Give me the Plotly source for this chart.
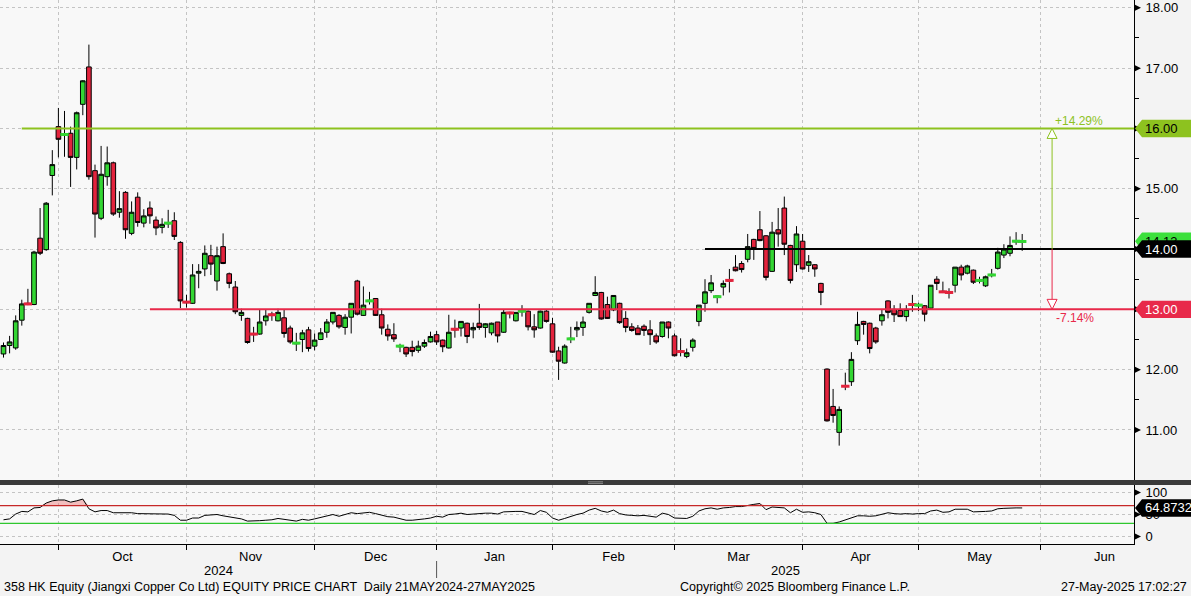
import pandas as pd
import plotly.graph_objects as go

# ---------------- data ----------------
HOLIDAYS = ["2024-09-18", "2024-10-01", "2024-10-11", "2024-12-25", "2024-12-26",
            "2025-01-01", "2025-01-29", "2025-01-30", "2025-01-31", "2025-04-04",
            "2025-04-18", "2025-04-21", "2025-05-01", "2025-05-05"]

open_ = [12.26,12.40,12.36,12.82,13.10,13.08,14.18,13.99,15.22,16.03,
         15.89,15.92,15.52,16.40,17.02,15.30,14.51,15.20,15.43,14.61,
         14.94,14.26,14.86,14.43,14.68,14.48,14.36,14.42,14.47,14.11,
         13.13,13.10,13.60,13.67,13.89,13.47,14.04,13.59,13.37,12.90,
         12.85,12.60,12.59,12.81,12.92,12.81,12.86,12.69,12.43,12.50,
         12.66,12.39,12.50,12.62,12.79,12.90,12.70,12.87,13.47,12.90,
         13.13,13.18,12.91,12.67,12.58,12.38,12.37,12.37,12.32,12.39,
         12.46,12.58,12.49,12.36,12.68,12.69,12.77,12.66,12.77,12.70,
         12.61,12.79,12.62,12.95,12.81,12.96,12.97,12.71,12.69,12.97,
         12.76,12.31,12.11,12.50,12.66,12.70,12.95,13.23,13.28,13.08,
         12.99,13.10,12.85,12.71,12.69,12.72,12.66,12.56,12.55,12.79,
         12.56,12.31,12.22,12.37,12.80,13.10,13.31,13.20,13.37,13.49,
         13.70,13.76,13.83,14.16,14.32,14.22,13.63,14.32,14.68,14.06,
         13.74,14.13,13.73,13.74,13.43,12.01,11.39,10.96,11.73,11.80,
         12.48,12.80,12.77,12.69,12.81,13.14,13.00,12.98,12.88,13.09,
         13.06,13.06,13.02,13.50,13.30,13.29,13.40,13.70,13.60,13.65,
         13.47,13.39,13.56,13.68,13.90,13.93,14.12,14.12]

high = [12.45,12.56,12.90,13.16,13.34,13.97,14.68,14.78,15.64,16.34,
        16.29,16.03,16.28,16.80,17.39,15.40,15.71,15.70,15.45,14.96,
        14.96,14.79,14.94,14.66,14.79,14.54,14.51,14.65,14.61,14.13,
        13.24,13.75,13.75,14.06,14.07,14.04,14.26,13.61,13.47,13.01,
        12.86,12.71,12.99,12.99,12.96,13.01,12.99,12.73,12.61,12.66,
        12.71,12.60,12.69,12.84,12.95,12.92,12.92,13.10,13.49,13.38,
        13.29,13.18,13.01,12.75,12.77,12.43,12.38,12.48,12.48,12.50,
        12.63,12.64,12.50,12.91,12.83,12.80,12.78,12.78,13.09,12.77,
        12.78,12.79,12.99,12.96,12.95,13.07,12.98,12.92,12.98,13.00,
        12.86,12.38,12.42,12.71,12.80,12.88,13.10,13.55,13.29,13.21,
        13.23,13.11,12.97,12.77,12.74,12.75,12.82,12.60,12.79,12.80,
        12.60,12.52,12.35,12.52,13.07,13.50,13.57,13.22,13.48,13.67,
        13.90,13.80,14.25,14.17,14.63,14.23,14.45,14.68,14.87,14.07,
        14.38,14.25,13.90,13.75,13.44,12.02,11.68,11.39,11.95,12.29,
        12.96,12.81,12.78,12.71,12.99,13.15,13.07,13.10,13.07,13.24,
        13.11,13.07,13.40,13.55,13.46,13.35,13.70,13.74,13.74,13.66,
        13.54,13.56,13.67,14.02,14.08,14.21,14.28,14.25]

low = [12.20,12.27,12.33,12.73,13.07,13.07,13.90,13.97,14.89,15.52,
       15.53,15.03,15.32,16.22,15.15,14.19,14.48,15.05,14.55,14.52,
       14.17,14.23,14.37,14.36,14.42,14.23,14.26,14.35,14.15,13.02,
       13.03,13.09,13.35,13.55,13.57,13.31,13.75,13.35,12.92,12.81,
       12.43,12.46,12.58,12.73,12.81,12.80,12.53,12.43,12.31,12.29,
       12.30,12.32,12.49,12.53,12.75,12.68,12.58,12.60,12.90,12.89,
       13.08,12.89,12.58,12.48,12.46,12.29,12.21,12.22,12.28,12.36,
       12.45,12.41,12.29,12.35,12.53,12.55,12.44,12.52,12.66,12.53,
       12.57,12.45,12.61,12.85,12.80,12.88,12.65,12.53,12.68,12.78,
       12.28,11.83,12.10,12.44,12.54,12.56,12.93,13.22,12.83,12.84,
       12.97,12.76,12.62,12.63,12.58,12.56,12.41,12.43,12.53,12.52,
       12.22,12.22,12.19,12.30,12.72,12.96,13.27,13.10,13.23,13.28,
       13.63,13.61,13.78,13.82,14.13,13.48,13.62,14.04,13.90,13.43,
       13.62,13.66,13.62,13.54,13.07,11.14,11.12,10.74,11.66,11.73,
       12.41,12.58,12.27,12.43,12.73,12.85,12.79,12.88,12.80,12.96,
       12.97,12.80,13.01,13.32,13.27,13.18,13.28,13.48,13.58,13.42,
       13.43,13.37,13.53,13.66,13.85,13.88,14.07,13.97]

close = [12.40,12.46,12.81,13.09,13.08,13.95,13.93,14.76,15.40,15.82,
         15.91,15.52,16.26,16.79,15.20,14.58,15.24,15.43,14.58,14.67,
         14.32,14.61,14.44,14.55,14.55,14.35,14.41,14.44,14.21,13.14,
         13.11,13.57,13.63,13.93,13.75,13.89,13.76,13.43,12.96,12.95,
         12.45,12.58,12.79,12.89,12.90,12.95,12.60,12.46,12.45,12.61,
         12.35,12.49,12.61,12.79,12.95,12.71,12.87,13.10,12.92,13.07,
         13.15,12.90,12.69,12.56,12.51,12.40,12.26,12.30,12.39,12.45,
         12.55,12.46,12.38,12.62,12.66,12.80,12.55,12.70,12.70,12.76,
         12.77,12.56,12.95,12.93,12.95,12.98,12.71,12.66,12.97,12.80,
         12.29,12.14,12.39,12.52,12.70,12.79,13.10,13.28,12.84,12.85,
         13.23,12.78,12.70,12.65,12.58,12.65,12.58,12.46,12.79,12.69,
         12.23,12.29,12.28,12.49,13.07,13.29,13.44,13.22,13.43,13.47,
         13.64,13.66,14.04,14.01,14.14,13.53,14.28,14.25,14.08,13.48,
         14.25,13.67,13.79,13.67,13.28,11.15,11.24,11.34,11.72,12.17,
         12.75,12.75,12.35,12.46,12.91,12.95,12.91,12.88,13.00,13.07,
         13.08,12.92,13.40,13.43,13.28,13.27,13.70,13.57,13.72,13.45,
         13.49,13.54,13.58,13.95,14.00,14.06,14.14,14.13]

rsi = [38,40,51,57,56,65,66,76,81,83,
       83,78,81,85,63,56,59,59,54,54,
       53,54,52,52,51,51,51,51,48,37,
       37,42,42,48,49,50,47,45,42,40,
       35,35,36,37,38,41,39,36,35,39,
       37,40,43,46,50,46,50,54,52,54,
       55,52,49,45,44,40,37,37,38,40,
       42,46,44,50,51,53,50,51,53,53,
       53,51,56,57,57,57,53,50,59,55,
       42,37,41,46,50,53,60,64,58,55,
       60,52,49,48,47,48,46,44,53,50,
       42,41,41,46,58,63,65,62,65,66,
       68,68,71,73,75,61,67,66,65,54,
       62,55,56,54,50,30,30,33,38,42,
       47,47,46,47,51,54,52,51,52,51,
       52,52,58,60,55,56,62,62,62,56,
       56,57,58,63,64,65,65,64.8732]

LAST_PRICE = 14.13
RSI_LAST = 64.8732
UPPER_LEVEL, MID_LEVEL, LOWER_LEVEL = 16.00, 14.00, 13.00
UP_PCT, DOWN_PCT = "+14.29%", "-7.14%"
PRICE_TICKS = [11, 12, 13, 14, 15, 16, 17, 18]
RSI_TICKS = [0, 50, 100]

TITLE_TEXT = "358 HK Equity (Jiangxi Copper Co Ltd) EQUITY PRICE CHART  Daily 21MAY2024-27MAY2025"
COPY_TEXT = "Copyright\u00a9 2025 Bloomberg Finance L.P."
STAMP_TEXT = "27-May-2025 17:02:27"

# ---------------- calendar / x positions ----------------
trading_days = [d for d in pd.bdate_range("2024-09-16", "2025-06-30")
                if d.strftime("%Y-%m-%d") not in HOLIDAYS]
n = len(close)
dates = [d.strftime("%Y-%m-%d") for d in trading_days[:n]]
xi = list(range(n))

bounds = [i for i in range(len(trading_days) - 1)
          if trading_days[i].month != trading_days[i + 1].month]
edges = bounds + [len(trading_days) - 1]
mid_vals = [(edges[j] + edges[j + 1]) / 2 for j in range(len(edges) - 1)]
mid_text = [trading_days[edges[j] + 1].strftime("%b") for j in range(len(edges) - 1)]
year_bound = [b for b in bounds if trading_days[b + 1].year == 2025 and trading_days[b].year == 2024][0]

PX = 6.1            # pixels per trading day
X0 = -3.5 / PX      # left edge of plot in index units
PLOT_W = 1134
X1 = X0 + PLOT_W / PX

YR = [10.17, 18.13]
RR = [-17, 117]
MAIN_H = 480.0
PPU = MAIN_H / (YR[1] - YR[0])   # pixels per price unit
RPU = 59.0 / (RR[1] - RR[0])     # pixels per rsi unit

GREEN_LVL = "#8DC21F"
RED_LVL = "#E8294A"
UP_C = "#33D633"
DN_C = "#E3233D"
GRID = "#C4C4C4"
FONT = "Liberation Sans, Arial, sans-serif"

fig = go.Figure()

fig.add_trace(go.Candlestick(
    x=xi, open=open_, high=high, low=low, close=close, text=dates,
    increasing=dict(fillcolor=UP_C, line=dict(color="black", width=1)),
    decreasing=dict(fillcolor=DN_C, line=dict(color="black", width=1)),
    whiskerwidth=0, xaxis="x", yaxis="y", showlegend=False, hoverinfo="skip"))

# doji: thin coloured dashes
dx, dy, dc = [], [], []
for i in range(n):
    if abs(close[i] - open_[i]) <= 0.03:
        dx.append(i); dy.append((close[i] + open_[i]) / 2)
        dc.append(UP_C if close[i] > open_[i] else DN_C)
fig.add_trace(go.Scatter(x=dx, y=dy, mode="markers", xaxis="x", yaxis="y",
                         marker=dict(symbol="line-ew", size=6, line=dict(color=dc, width=3)),
                         showlegend=False, hoverinfo="skip"))

# RSI fill above 70
fig.add_trace(go.Scatter(x=xi, y=[70] * n, mode="lines", line=dict(width=0),
                         xaxis="x2", yaxis="y2", showlegend=False, hoverinfo="skip"))
fig.add_trace(go.Scatter(x=xi, y=[max(v, 70) for v in rsi], mode="lines", line=dict(width=0),
                         fill="tonexty", fillcolor="rgba(235,120,120,0.45)",
                         xaxis="x2", yaxis="y2", showlegend=False, hoverinfo="skip"))
fig.add_trace(go.Scatter(x=xi, y=rsi, mode="lines", line=dict(color="black", width=1),
                         xaxis="x2", yaxis="y2", showlegend=False, hoverinfo="skip"))

shapes = []
# level lines
shapes.append(dict(type="line", xref="x", yref="y", x0=3, x1=X1, y0=UPPER_LEVEL, y1=UPPER_LEVEL,
                   line=dict(color=GREEN_LVL, width=2)))
shapes.append(dict(type="line", xref="x", yref="y", x0=115, x1=X1, y0=MID_LEVEL, y1=MID_LEVEL,
                   line=dict(color="black", width=2)))
shapes.append(dict(type="line", xref="x", yref="y", x0=24, x1=X1, y0=LOWER_LEVEL, y1=LOWER_LEVEL,
                   line=dict(color=RED_LVL, width=2)))

# measuring arrow
AX = 171.9
tw = 5.0 / PX
th = 10.0 / PPU
shapes.append(dict(type="line", xref="x", yref="y", x0=AX, x1=AX, y0=MID_LEVEL, y1=UPPER_LEVEL - th,
                   line=dict(color=GREEN_LVL, width=1)))
shapes.append(dict(type="path", xref="x", yref="y",
                   path=f"M {AX-tw},{UPPER_LEVEL-th} L {AX},{UPPER_LEVEL} L {AX+tw},{UPPER_LEVEL-th} Z",
                   line=dict(color=GREEN_LVL, width=1), fillcolor="rgba(255,255,255,0.9)"))
shapes.append(dict(type="line", xref="x", yref="y", x0=AX, x1=AX, y0=MID_LEVEL, y1=LOWER_LEVEL + th,
                   line=dict(color=RED_LVL, width=1)))
shapes.append(dict(type="path", xref="x", yref="y",
                   path=f"M {AX-tw},{LOWER_LEVEL+th} L {AX},{LOWER_LEVEL} L {AX+tw},{LOWER_LEVEL+th} Z",
                   line=dict(color=RED_LVL, width=1), fillcolor="rgba(255,255,255,0.9)"))

# RSI 70 / 30 lines
shapes.append(dict(type="line", xref="paper", yref="y2", x0=0, x1=1, y0=70, y1=70,
                   line=dict(color="#C62828", width=1.2)))
shapes.append(dict(type="line", xref="paper", yref="y2", x0=0, x1=1, y0=30, y1=30,
                   line=dict(color="#2FC72F", width=1.2)))

# separator bar between panes
H_PLOT = 544.0
shapes.append(dict(type="rect", xref="paper", yref="paper", x0=0, x1=1191 / PLOT_W,
                   y0=(H_PLOT - 485) / H_PLOT, y1=(H_PLOT - 480) / H_PLOT,
                   fillcolor="#3A3A3A", line=dict(width=0), layer="above"))
for gy in (481.8, 483.4):
    shapes.append(dict(type="line", xref="paper", yref="paper",
                       x0=588 / PLOT_W, x1=603 / PLOT_W,
                       y0=(H_PLOT - gy) / H_PLOT, y1=(H_PLOT - gy) / H_PLOT,
                       line=dict(color="#9A9A9A", width=0.8), layer="above"))
# year divider
shapes.append(dict(type="line", xref="x2", yref="paper", x0=year_bound, x1=year_bound,
                   y0=(H_PLOT - 578) / H_PLOT, y1=(H_PLOT - 561) / H_PLOT,
                   line=dict(color="#555555", width=1)))

def px_to_paper(px):
    return px / PLOT_W

# axis triangles
def tri(v, yref, upu):
    h = 3.0 / upu
    return dict(type="path", xref="paper", yref=yref,
                path=f"M {px_to_paper(1135)},{v+h} L {px_to_paper(1141)},{v} L {px_to_paper(1135)},{v-h} Z",
                fillcolor="black", line=dict(width=0))
for v in PRICE_TICKS:
    shapes.append(tri(v, "y", PPU))
for v in RSI_TICKS:
    shapes.append(tri(v, "y2", RPU))

annotations = []

def tag(v, yref, upu, fill, txt, tcolor):
    h = 8.7 / upu
    xa, xb, xc = px_to_paper(1135), px_to_paper(1142), px_to_paper(1191)
    shapes.append(dict(type="path", xref="paper", yref=yref,
                       path=f"M {xa},{v} L {xb},{v+h} L {xc},{v+h} L {xc},{v-h} L {xb},{v-h} Z",
                       fillcolor=fill, line=dict(width=0), layer="above"))
    annotations.append(dict(xref="paper", yref=yref, x=px_to_paper(1143), y=v, text=txt,
                            xanchor="left", yanchor="middle", showarrow=False,
                            font=dict(family=FONT, size=13, color=tcolor)))

tag(UPPER_LEVEL, "y", PPU, GREEN_LVL, f"{UPPER_LEVEL:.2f}", "black")
tag(LAST_PRICE, "y", PPU, "#3CE03C", f"{LAST_PRICE:.2f}", "black")
tag(MID_LEVEL, "y", PPU, "black", f"{MID_LEVEL:.2f}", "white")
tag(LOWER_LEVEL, "y", PPU, RED_LVL, f"{LOWER_LEVEL:.2f}", "white")
tag(RSI_LAST, "y2", RPU, "black", f"{RSI_LAST:.4f}", "white")

annotations.append(dict(xref="x", yref="y", x=AX + 0.2, y=UPPER_LEVEL, yshift=7, text=UP_PCT,
                        xanchor="left", yanchor="middle", showarrow=False,
                        font=dict(family=FONT, size=12, color=GREEN_LVL)))
annotations.append(dict(xref="x", yref="y", x=AX + 0.3, y=LOWER_LEVEL, yshift=-9, text=DOWN_PCT,
                        xanchor="left", yanchor="middle", showarrow=False,
                        font=dict(family=FONT, size=12, color=RED_LVL)))

# year labels
annotations.append(dict(xref="x2", yref="paper", x=(X0 + year_bound) / 2, y=(H_PLOT - 570) / H_PLOT,
                        text="2024", showarrow=False, yanchor="middle",
                        font=dict(family=FONT, size=13, color="black")))
annotations.append(dict(xref="x2", yref="paper", x=(year_bound + X1) / 2, y=(H_PLOT - 570) / H_PLOT,
                        text="2025", showarrow=False, yanchor="middle",
                        font=dict(family=FONT, size=13, color="black")))
# footer
FOOT_Y = (H_PLOT - 587) / H_PLOT
annotations.append(dict(xref="paper", yref="paper", x=px_to_paper(2), y=FOOT_Y, text=TITLE_TEXT,
                        xanchor="left", yanchor="middle", showarrow=False,
                        font=dict(family=FONT, size=12.5, color="black")))
annotations.append(dict(xref="paper", yref="paper", x=px_to_paper(795), y=FOOT_Y, text=COPY_TEXT,
                        xanchor="center", yanchor="middle", showarrow=False,
                        font=dict(family=FONT, size=12.5, color="black")))
annotations.append(dict(xref="paper", yref="paper", x=px_to_paper(1189), y=FOOT_Y, text=STAMP_TEXT,
                        xanchor="right", yanchor="middle", showarrow=False,
                        font=dict(family=FONT, size=12.5, color="black")))

minor_x = dict(tickmode="array", tickvals=bounds, showgrid=True, gridcolor=GRID,
               griddash="dot", gridwidth=1)

fig.update_layout(
    width=1191, height=596,
    margin=dict(l=0, r=1191 - PLOT_W, t=0, b=596 - int(H_PLOT)),
    paper_bgcolor="#F3F3F3", plot_bgcolor="#F8F8F8",
    showlegend=False, hovermode=False,
    boxgap=0.2, boxgroupgap=0.05,
    shapes=shapes, annotations=annotations,
    xaxis=dict(domain=[0, 1], range=[X0, X1], anchor="y", showticklabels=False,
               tickmode="array", tickvals=mid_vals, ticks="", showgrid=False, zeroline=False,
               showline=False, rangeslider=dict(visible=False),
               minor=dict(ticks="", **minor_x)),
    xaxis2=dict(domain=[0, 1], range=[X0, X1], anchor="y2", matches="x",
                tickmode="array", tickvals=mid_vals, ticktext=mid_text, ticks="",
                showgrid=False, zeroline=False, showline=True, linecolor="black", linewidth=1,
                tickfont=dict(family=FONT, size=13, color="black"),
                minor=dict(ticks="outside", ticklen=5, tickcolor="black", **minor_x)),
    yaxis=dict(domain=[(H_PLOT - MAIN_H) / H_PLOT, 1], range=YR, side="right", anchor="x",
               tickmode="array", tickvals=PRICE_TICKS, ticktext=[f"{v:.2f}" for v in PRICE_TICKS],
               ticks="outside", ticklen=8, tickcolor="rgba(0,0,0,0)",
               showgrid=True, gridcolor=GRID, griddash="dot", zeroline=False,
               showline=True, linecolor="black", linewidth=1,
               tickfont=dict(family=FONT, size=13, color="black"),
               minor=dict(tickmode="array", tickvals=[v + 0.5 for v in PRICE_TICKS[:-1]],
                          ticks="outside", ticklen=4, tickcolor="black", showgrid=False)),
    yaxis2=dict(domain=[0, 59.0 / H_PLOT], range=RR, side="right", anchor="x2",
                tickmode="array", tickvals=RSI_TICKS, ticktext=[str(v) for v in RSI_TICKS],
                ticks="outside", ticklen=8, tickcolor="rgba(0,0,0,0)",
                showgrid=True, gridcolor=GRID, griddash="dot", zeroline=False,
                showline=True, linecolor="black", linewidth=1,
                tickfont=dict(family=FONT, size=13, color="black")),
)

fig.write_html("out.html", config={"displayModeBar": False},
               post_script="document.body.style.margin='0';document.body.style.overflow='hidden';")
